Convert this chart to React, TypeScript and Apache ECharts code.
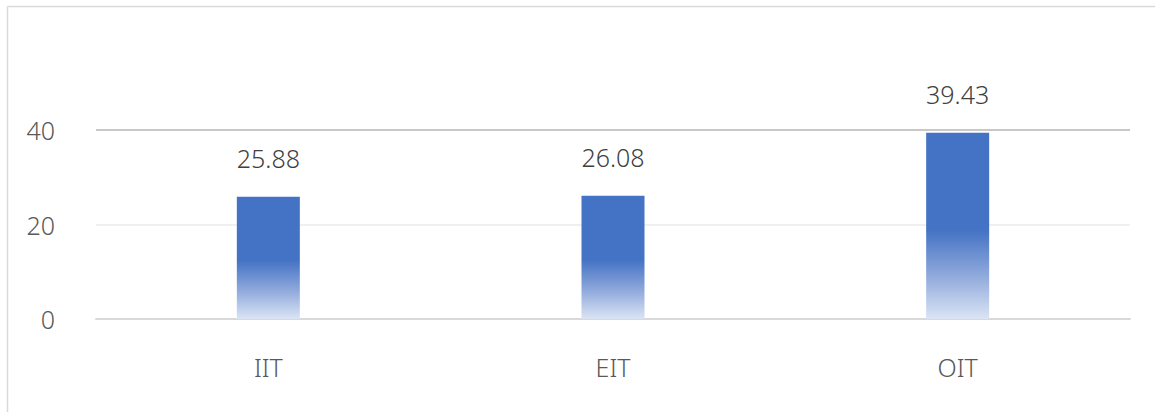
import React, { useEffect, useRef } from "react";
import * as echarts from "echarts";

const categories = ["IIT", "EIT", "OIT"];
const values = [25.88, 26.08, 39.43];
const yTicks = [0, 20, 40];

export default function App() {
  const ref = useRef<HTMLDivElement>(null);
  useEffect(() => {
    if (!ref.current) return;
    const chart = echarts.init(ref.current, null, { renderer: "svg" });
    const font = "'Noto Sans', 'Open Sans', sans-serif";
    chart.setOption({
      animation: false,
      backgroundColor: "#ffffff",
      grid: { left: 96, right: 25, top: 130, bottom: 93, containLabel: false },
      graphic: [
        { type: "line", shape: { x1: 7.5, y1: 6.5, x2: 1155, y2: 6.5 }, style: { stroke: "#d9d9d9", lineWidth: 1.5 }, silent: true },
        { type: "line", shape: { x1: 7.5, y1: 6.5, x2: 7.5, y2: 412 }, style: { stroke: "#d9d9d9", lineWidth: 1.5 }, silent: true },
      ],
      xAxis: {
        type: "category",
        data: categories,
        boundaryGap: true,
        axisLine: { show: true, lineStyle: { color: "#d9d9d9", width: 2 } },
        axisTick: { show: false },
        axisLabel: { color: "#595959", fontSize: 25, fontWeight: 300, fontFamily: font, margin: 35 },
      },
      yAxis: {
        type: "value",
        min: yTicks[0],
        max: yTicks[yTicks.length - 1],
        interval: 20,
        axisLine: { show: false },
        axisTick: { show: false },
        axisLabel: { color: "#595959", fontSize: 25, fontWeight: 300, fontFamily: font, margin: 41 },
        splitLine: { show: true, lineStyle: { color: ["#d9d9d9", "#f0f0f0", "#c8c8c8"], width: 2 } },
      },
      series: [
        {
          type: "bar",
          data: values,
          barWidth: 63,
          itemStyle: {
            color: new echarts.graphic.LinearGradient(0, 0, 0, 1, [
              { offset: 0, color: "#4472C4" },
              { offset: 0.52, color: "#4472C4" },
              { offset: 0.75, color: "#8aa5da" },
              { offset: 1, color: "#dbe4f4" },
            ]),
          },
          label: {
            show: true,
            position: "top",
            distance: 26,
            color: "#404040",
            fontSize: 25,
            fontWeight: 300,
            fontFamily: font,
            formatter: (p: any) => p.value.toFixed(2),
          },
        },
      ],
    });
    return () => chart.dispose();
  }, []);
  return (
    <div
      ref={ref}
      style={{ position: "absolute", left: 0, top: 0, width: 1155, height: 412 }}
    />
  );
}
